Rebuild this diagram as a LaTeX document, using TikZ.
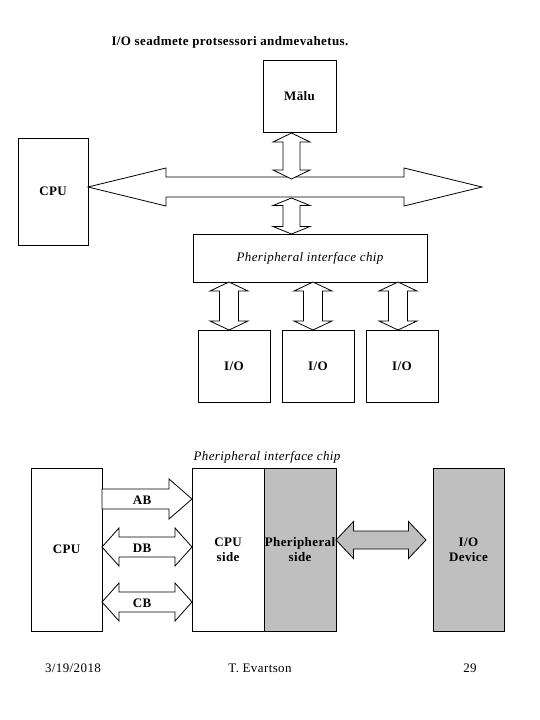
\documentclass[tikz,border=0pt]{standalone}
\usepackage{fontspec}
\setmainfont[LetterSpace=3]{Liberation Serif}
\tikzset{
  box/.style={draw, line width=0.8pt, inner sep=0pt, align=center, font=\fontsize{13}{15}\selectfont\bfseries},
  blk/.style={draw, line width=0.8pt, fill=white, line join=miter},
  gblk/.style={draw, line width=0.8pt, fill=black!25, line join=miter},
  lbl/.style={font=\fontsize{13}{15}\selectfont\bfseries, inner sep=0pt},
  foot/.style={font=\fontsize{13}{15}\selectfont, inner sep=0pt},
  ital/.style={font=\fontsize{13}{15}\selectfont\itshape, inner sep=0pt}
}
% vertical double block arrow: x, ytop, ybottom, headlen, headhalf, shafthalf, style
\newcommand{\vdarrow}[7]{\draw[#7] (#1,#2) -- ({#1+#5},{#2+#4}) -- ({#1+#6},{#2+#4}) -- ({#1+#6},{#3-#4}) -- ({#1+#5},{#3-#4}) -- (#1,#3) -- ({#1-#5},{#3-#4}) -- ({#1-#6},{#3-#4}) -- ({#1-#6},{#2+#4}) -- ({#1-#5},{#2+#4}) -- cycle;}
% horizontal double block arrow: y, xleft, xright, headlen, headhalf, shafthalf, style
\newcommand{\hdarrow}[7]{\draw[#7] (#2,#1) -- ({#2+#4},{#1-#5}) -- ({#2+#4},{#1-#6}) -- ({#3-#4},{#1-#6}) -- ({#3-#4},{#1-#5}) -- (#3,#1) -- ({#3-#4},{#1+#5}) -- ({#3-#4},{#1+#6}) -- ({#2+#4},{#1+#6}) -- ({#2+#4},{#1+#5}) -- cycle;}
% horizontal single right block arrow
\newcommand{\hrarrow}[7]{\draw[#7] (#2,{#1-#6}) -- ({#3-#4},{#1-#6}) -- ({#3-#4},{#1-#5}) -- (#3,#1) -- ({#3-#4},{#1+#5}) -- ({#3-#4},{#1+#6}) -- (#2,{#1+#6}) -- cycle;}
\begin{document}
\begin{tikzpicture}[x=1pt,y=-1pt]
\useasboundingbox (0,0) rectangle (540,720);
% title
\node[lbl] (title) at (230,42) {I/O seadmete protsessori andmevahetus.};
% top diagram
\node[box, minimum width=73pt, minimum height=72pt] (mem) at (299.5,96) {Mälu};
\node[box, minimum width=70pt, minimum height=107pt] (cpu) at (53,191.5) {CPU};
\node[box, minimum width=234pt, minimum height=48pt, font=\fontsize{13}{15}\selectfont\itshape] (pic) at (310,258) {Pheripheral interface chip};
\node[box, minimum width=72pt, minimum height=72pt] (io1) at (234,366) {I/O};
\node[box, minimum width=72pt, minimum height=72pt] (io2) at (318,366) {I/O};
\node[box, minimum width=72pt, minimum height=72pt] (io3) at (402,366) {I/O};
% bus
\hdarrow{187}{88}{482}{78}{19}{10}{blk}
% memory <-> bus
\vdarrow{291.5}{133}{179}{9}{18.5}{8.5}{blk}
% bus <-> chip
\vdarrow{291.5}{198}{234}{7.5}{18.5}{8.5}{blk}
% chip <-> I/O
\vdarrow{229}{282}{330}{9}{19}{9.5}{blk}
\vdarrow{313}{282}{330}{9}{19}{9.5}{blk}
\vdarrow{398}{282}{330}{9}{19}{9.5}{blk}
% bottom diagram
\node[ital] (piclbl) at (267,457) {Pheripheral interface chip};
\node[box, minimum width=71pt, minimum height=163pt] (cpu2) at (66.5,549.5) {CPU};
\node[box, minimum width=72pt, minimum height=163pt] (cside) at (228,549.5) {CPU\\side};
\node[box, minimum width=72pt, minimum height=163pt, fill=black!25] (pside) at (300,549.5) {Pheripheral\\side};
\node[box, minimum width=71pt, minimum height=163pt, fill=black!25] (dev) at (468.5,549.5) {I/O\\Device};
\hrarrow{499}{102}{192}{23}{20}{10}{blk}
\hdarrow{547}{102}{192}{17}{19}{10}{blk}
\hdarrow{602}{102}{192}{17}{19}{10}{blk}
\node[lbl] (ab) at (142,500) {AB};
\node[lbl] (db) at (142,548) {DB};
\node[lbl] (cb) at (142,603) {CB};
\hdarrow{540}{336}{426}{17.5}{18.5}{9}{gblk}
% footer
\node[foot] (date) at (73,668) {3/19/2018};
\node[foot] (auth) at (260,668) {T. Evartson};
\node[foot] (page) at (470,668) {29};
\end{tikzpicture}
\end{document}
